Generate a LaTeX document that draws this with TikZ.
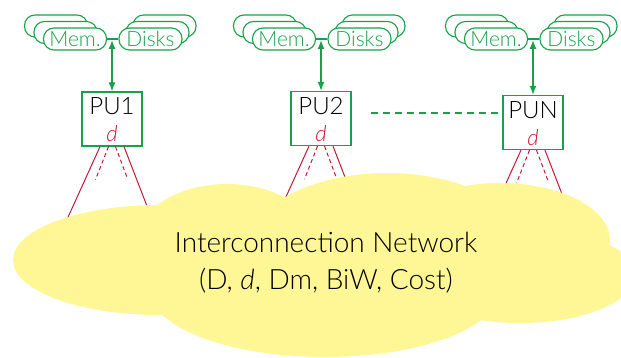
\documentclass[tikz,border=0pt]{standalone}
\usepackage{fontspec}
\IfFontExistsTF{Lato Light}{\setmainfont{Lato Light}}{\setmainfont{Lato}}
\usetikzlibrary{arrows.meta,calc}
\definecolor{netgreen}{RGB}{26,160,75}
\definecolor{netred}{RGB}{200,22,52}
\definecolor{cloudyellow}{RGB}{255,246,150}

\begin{document}
\begin{tikzpicture}[x=1pt,y=-1pt,
  pill/.style={draw=netgreen, fill=white, line width=1.1pt, rounded corners=10.5pt,
    minimum width=63pt, minimum height=22pt, inner sep=0pt},
  pilltext/.style={text=netgreen, font=\fontsize{21}{21}\selectfont},
  pubox/.style={draw=netgreen, line width=1.3pt, minimum width=60pt, minimum height=54pt, inner sep=0pt},
  pulabel/.style={anchor=base, font=\fontsize{24}{24}\selectfont, inner sep=0pt},
  degree/.style={anchor=base, text=netred, font=\itshape\fontsize{22}{22}\selectfont, inner sep=0pt},
  link/.style={draw=netred, line width=1pt},
  linkdash/.style={draw=netred, line width=1pt, dash pattern=on 4pt off 3pt},
  memarrow/.style={draw=netgreen, line width=1.3pt,
    {Latex[length=9pt,width=7pt]}-{Latex[length=9pt,width=7pt]}},
  peerlink/.style={draw=netgreen, line width=1.1pt, dash pattern=on 7pt off 5pt},
  cloudpart/.style={fill=cloudyellow},
  nettext/.style={anchor=base, font=\fontsize{28}{28}\selectfont, inner sep=0pt}
]
\useasboundingbox (0,0) rectangle (621,358);

% processing units with their memory and disk stacks
\foreach \n/\x/\y/\lab in {1/112/119/PU1, 2/321/118.5/PU2, N/533/122.5/PUN}{
  \node[pill] (memc\n) at (\x-56,26) {};
  \node[pill] (memb\n) at (\x-46.5,32.5) {};
  \node[pill,pilltext] (mem\n) at (\x-37,39) {Mem.};
  \node[pill] (diskc\n) at (\x+52.5,26) {};
  \node[pill] (diskb\n) at (\x+45.5,32.5) {};
  \node[pill,pilltext] (disk\n) at (\x+38.5,39) {Disks};
  \draw[netgreen, line width=1.1pt] (mem\n.east) -- (disk\n.west);
  \coordinate (jn\n) at (\x,40);

  \node[pubox] (pu\n) at (\x,\y) {};
  \node[pulabel] (pul\n) at ($(pu\n.north)+(0,23.5)$) {\lab};
  \node[degree] (deg\n) at ($(pu\n.north)+(0,50.5)$) {d};
  \draw[memarrow] (jn\n) -- (pu\n.north);

  % links into the network
  \draw[link] ($(pu\n.south)+(-12,0)$) -- ++(-34,75);
  \draw[link] ($(pu\n.south)+(12,0)$) -- ++(29,75);
  \draw[linkdash] ($(pu\n.south)+(-3.5,0)$) -- ++(-13,33);
  \draw[linkdash] ($(pu\n.south)+(3.5,0)$) -- ++(12,32);
}

\draw[peerlink] ($(pu2.east)+(19,-5.5)$) coordinate (pstart) -- ($(pstart -| puN.west)+(-3,0)$);

% the network cloud
\fill[cloudpart] (160,260) ellipse [x radius=147pt, y radius=55pt];
\fill[cloudpart] (227,250) ellipse [x radius=95pt, y radius=66pt];
\fill[cloudpart] (387,250) ellipse [x radius=140pt, y radius=77pt];
\fill[cloudpart] (325,290) ellipse [x radius=175pt, y radius=67pt];
\fill[cloudpart] (500,240) ellipse [x radius=110pt, y radius=57pt];
\fill[cloudpart] (520,275) ellipse [x radius=115pt, y radius=48pt];

\node[nettext] (net1) at (326,252) {Interconnection Network};
\node[nettext] (net2) at (326,289) {(D, \textit{d}, Dm, BiW, Cost)};
\end{tikzpicture}
\end{document}
